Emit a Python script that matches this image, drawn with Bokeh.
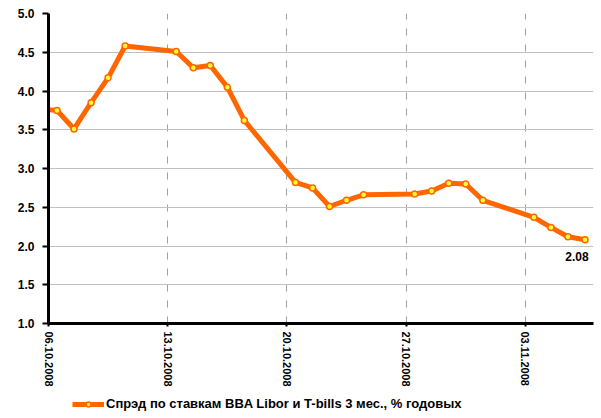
import datetime as dt
from bokeh.plotting import figure
from bokeh.layouts import column
from bokeh.models import (ColumnDataSource, FixedTicker, DatetimeTickFormatter,
                          Range1d, Legend, LegendItem, NumeralTickFormatter)
from bokeh.core.properties import value
from bokeh.embed import file_html
from bokeh.resources import INLINE

# ---- data ----
dates = ["03.10.2008", "06.10.2008", "07.10.2008", "08.10.2008", "09.10.2008",
         "10.10.2008", "13.10.2008", "14.10.2008", "15.10.2008", "16.10.2008",
         "17.10.2008", "20.10.2008", "21.10.2008", "22.10.2008", "23.10.2008",
         "24.10.2008", "27.10.2008", "28.10.2008", "29.10.2008", "30.10.2008",
         "31.10.2008", "03.11.2008", "04.11.2008", "05.11.2008", "06.11.2008"]
spread = [3.80, 3.75, 3.51, 3.85, 4.17,
          4.58, 4.51, 4.30, 4.33, 4.05,
          3.62, 2.82, 2.75, 2.51, 2.59,
          2.66, 2.67, 2.71, 2.81, 2.80,
          2.59, 2.37, 2.24, 2.12, 2.08]
tick_dates = ["06.10.2008", "13.10.2008", "20.10.2008", "27.10.2008", "03.11.2008"]
y_ticks = [1.0, 1.5, 2.0, 2.5, 3.0, 3.5, 4.0, 4.5, 5.0]
series_label = "Спрэд по ставкам BBA Libor и T-bills 3 мес., % годовых"
x_start, x_end = "06.10.2008", "07.11.2008"

def parse(s):
    return dt.datetime.strptime(s, "%d.%m.%Y")

EPOCH = dt.datetime(1970, 1, 1)
def to_ms(d):
    return (d - EPOCH).total_seconds() * 1000.0

# points are plotted at the middle of each day
xs = [parse(d) + dt.timedelta(hours=12) for d in dates]
tick_ms = [to_ms(parse(d)) for d in tick_dates]

src = ColumnDataSource(data=dict(x=xs, y=spread))

FONT = "Liberation Sans"
ORANGE = "#FF6600"
MARKER_FILL = "#FFFF33"

p = figure(width=601, height=395, x_axis_type="datetime",
           x_range=Range1d(parse(x_start), parse(x_end)),
           y_range=Range1d(y_ticks[0], y_ticks[-1]),
           output_backend="svg", toolbar_location=None,
           min_border_left=48, min_border_right=8,
           min_border_top=13, min_border_bottom=72)
p.outline_line_color = None
p.background_fill_color = "white"
p.border_fill_color = "white"

# grids
p.xgrid.ticker = FixedTicker(ticks=tick_ms)
p.xgrid.grid_line_color = "#a0a0a0"
p.xgrid.grid_line_dash = "7 9"
p.xgrid.grid_line_width = 1
p.ygrid.ticker = FixedTicker(ticks=y_ticks)
p.ygrid.grid_line_color = "#c0c0c0"
p.ygrid.grid_line_width = 1

# axes
p.xaxis.ticker = FixedTicker(ticks=tick_ms)
fmt = "%d.%m.%Y"
p.xaxis.formatter = DatetimeTickFormatter(
    microseconds=fmt, milliseconds=fmt, seconds=fmt, minsec=fmt, minutes=fmt,
    hourmin=fmt, hours=fmt, days=fmt, months=fmt, years=fmt)
p.xaxis.major_label_orientation = "vertical"
p.xaxis.major_tick_out = 3
p.xaxis.major_tick_in = 0
p.xaxis.major_label_standoff = 5
p.xaxis.major_label_text_font_size = "11px"

p.yaxis.ticker = FixedTicker(ticks=y_ticks)
p.yaxis.formatter = NumeralTickFormatter(format="0.0")
p.yaxis.major_tick_out = 6
p.yaxis.major_tick_in = 0
p.yaxis.major_label_standoff = 8
p.yaxis.major_label_text_font_size = "12px"

for ax in (p.xaxis, p.yaxis):
    ax.axis_line_width = 3
    ax.axis_line_color = "black"
    ax.major_tick_line_width = 2
    ax.major_tick_line_color = "black"
    ax.minor_tick_line_color = None
    ax.major_label_text_font = FONT
    ax.major_label_text_font_style = "bold"
    ax.major_label_text_color = "black"

# series
line_r = p.line("x", "y", source=src, line_color=ORANGE, line_width=5,
                line_join="round")
pts_r = p.scatter("x", "y", source=src, size=6, fill_color=MARKER_FILL,
                  line_color=ORANGE, line_width=1.5)

# last value label
p.text(x=[xs[-1]], y=[spread[-1]], text=[f"{spread[-1]:.2f}"],
       x_offset=-8, y_offset=17, text_align="center", text_baseline="middle",
       text_font=value(FONT), text_font_style="bold", text_font_size="12px",
       text_color="black")

# legend strip below the chart (its renderers reuse the series source,
# but the strip's ranges keep them out of view)
lg = figure(width=601, height=23, x_range=Range1d(0, 1), y_range=Range1d(100, 101),
            output_backend="svg", toolbar_location=None,
            x_axis_location=None, y_axis_location=None,
            min_border_left=0, min_border_right=0,
            min_border_top=0, min_border_bottom=0)
lg.outline_line_color = None
lg.grid.visible = False
lg.background_fill_color = "white"
lg.border_fill_color = "white"
lg_line = lg.line("x", "y", source=src, line_color=ORANGE, line_width=5)
lg_pts = lg.scatter("x", "y", source=src, size=6, fill_color=MARKER_FILL,
                    line_color=ORANGE, line_width=1.5)
legend = Legend(items=[LegendItem(label=series_label, renderers=[lg_line, lg_pts])],
                location=(24, 7), orientation="horizontal",
                padding=0, margin=0, spacing=0,
                glyph_width=32, glyph_height=12, label_height=12,
                label_standoff=2,
                label_text_font=FONT, label_text_font_style="bold",
                label_text_font_size="13px", label_text_color="black",
                border_line_color=None, background_fill_alpha=0)
lg.add_layout(legend)

open("out.html", "w").write(file_html(column(p, lg, spacing=0), INLINE))
